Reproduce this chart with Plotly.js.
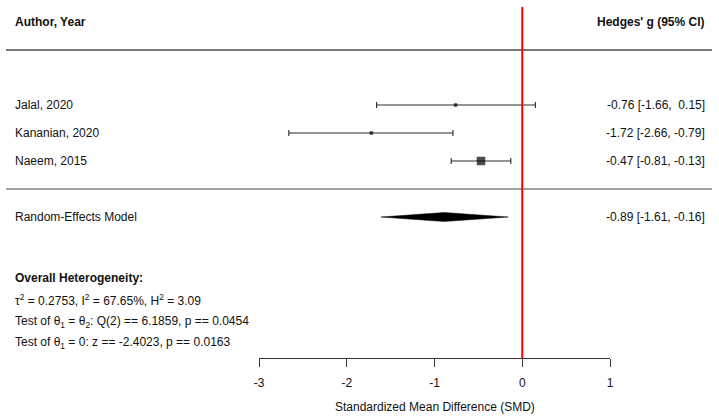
<!DOCTYPE html>
<html>
<head>
<meta charset="utf-8">
<script src="https://cdn.plot.ly/plotly-3.0.1.min.js"></script>
<style>
  html, body { margin: 0; padding: 0; background: #fff; }
  #chart { width: 719px; height: 417px; }
</style>
</head>
<body>
<div id="chart"></div>
<script>
// Study-level effect sizes (Hedges' g with 95% CI)
var studies = ['Jalal, 2020', 'Kananian, 2020', 'Naeem, 2015'];
var estimate = [-0.76, -1.72, -0.47];
var ciLower = [-1.66, -2.66, -0.81];
var ciUpper = [0.15, -0.79, -0.13];

// Pooled random-effects estimate
var modelLabel = 'Random-Effects Model';
var pooledEstimate = -0.89;
var pooledLower = -1.61;
var pooledUpper = -0.16;

// Heterogeneity statistics
var tau2 = '0.2753';
var i2 = '67.65%';
var h2 = '3.09';
var qDf = 2;
var qStat = '6.1859';
var qP = '0.0454';
var zStat = '-2.4023';
var zP = '0.0163';

var xTicks = [-3, -2, -1, 0, 1];

// Layout geometry (pixels)
var W = 719, H = 417;
var M = { l: 259, r: 109, t: 0, b: 59 };
var plotW = W - M.l - M.r;
var plotH = H - M.t - M.b;
var rowPx = 28;           // vertical distance between study rows
var row1Px = 161;         // pixel position of the bottom study row
function rowAt(p) { return 1 + (row1Px - p) / rowPx; }
function paperX(p) { return (p - M.l) / plotW; }
function paperY(p) { return 1 - (p - M.t) / plotH; }

var FONT = 'Liberation Sans, Arial, Helvetica, sans-serif';
var TXT = '#111';
var leftX = paperX(13);
var rightX = paperX(707);

var n = studies.length;
var rows = studies.map(function (_, i) { return n - i; });
var pooledRow = -1;

function fmt(v) {
  var s = v.toFixed(2);
  return v >= 0 ? '\u00a0' + s : s;
}
function ciText(e, lo, hi) {
  return e.toFixed(2) + ' [' + lo.toFixed(2) + ', ' + fmt(hi) + ']';
}

var traces = [];

// Confidence intervals
traces.push({
  type: 'scatter',
  mode: 'markers',
  x: estimate,
  y: rows,
  error_x: {
    type: 'data',
    symmetric: false,
    array: estimate.map(function (e, i) { return ciUpper[i] - e; }),
    arrayminus: estimate.map(function (e, i) { return e - ciLower[i]; }),
    color: '#2a2a2a',
    thickness: 1.1,
    width: 3
  },
  marker: { size: 1, opacity: 0 },
  hoverinfo: 'skip',
  showlegend: false,
  cliponaxis: false
});

// Point estimates, drawn over the interval lines
traces.push({
  type: 'scatter',
  mode: 'markers',
  x: estimate,
  y: rows,
  marker: { symbol: 'square', color: '#000', size: [3.5, 3.5, 8.5], line: { width: 0 } },
  hoverinfo: 'skip',
  showlegend: false,
  cliponaxis: false
});

// Pooled estimate diamond
var dh = 4.5 / rowPx;
traces.push({
  type: 'scatter',
  mode: 'lines',
  x: [pooledLower, pooledEstimate, pooledUpper, pooledEstimate, pooledLower],
  y: [pooledRow, pooledRow + dh, pooledRow, pooledRow - dh, pooledRow],
  fill: 'toself',
  fillcolor: '#000',
  line: { color: '#000', width: 0.5 },
  hoverinfo: 'skip',
  showlegend: false,
  cliponaxis: false
});

var annotations = [];
function addText(text, x, y, anchor, bold) {
  annotations.push({
    text: bold ? '<b>' + text + '</b>' : text,
    xref: 'paper', yref: 'y',
    x: x, y: y,
    xanchor: anchor, yanchor: 'middle',
    showarrow: false,
    font: { family: FONT, size: 12, color: TXT }
  });
}

// Column headers
addText('Author, Year', leftX, rowAt(22), 'left', true);
addText("Hedges' g (95% CI)", rightX, rowAt(22), 'right', true);

// Study rows
studies.forEach(function (s, i) {
  addText(s, leftX, rows[i], 'left', false);
  addText(ciText(estimate[i], ciLower[i], ciUpper[i]), rightX, rows[i], 'right', false);
});

// Pooled row
addText(modelLabel, leftX, pooledRow, 'left', false);
addText(ciText(pooledEstimate, pooledLower, pooledUpper), rightX, pooledRow, 'right', false);

// Heterogeneity block
addText('Overall Heterogeneity:', leftX, rowAt(278), 'left', true);
addText('\u03c4<sup>2</sup> = ' + tau2 + ', I<sup>2</sup> = ' + i2 + ', H<sup>2</sup> = ' + h2,
        leftX, rowAt(300), 'left', false);
addText('Test of \u03b8<sub>1</sub> = \u03b8<sub>2</sub>: Q(' + qDf + ') == ' + qStat + ', p == ' + qP,
        leftX, rowAt(322), 'left', false);
addText('Test of \u03b8<sub>1</sub> = 0: z == ' + zStat + ', p == ' + zP,
        leftX, rowAt(343), 'left', false);

// Axis title
annotations.push({
  text: 'Standardized Mean Difference (SMD)',
  xref: 'x', yref: 'paper',
  x: -1, y: paperY(407),
  xanchor: 'center', yanchor: 'middle',
  showarrow: false,
  font: { family: FONT, size: 12, color: TXT }
});

var yBottom = rowAt(M.t + plotH);
var yTop = rowAt(M.t);

var shapes = [
  // header separator
  { type: 'line', xref: 'paper', yref: 'y', x0: paperX(6), x1: paperX(712),
    y0: rowAt(50), y1: rowAt(50), line: { color: '#777', width: 2 } },
  // separator above pooled estimate
  { type: 'line', xref: 'paper', yref: 'y', x0: paperX(6), x1: paperX(712),
    y0: 0, y1: 0, line: { color: '#444', width: 1.2 } },
  // reference line at no effect
  { type: 'line', xref: 'x', yref: 'y', x0: 0, x1: 0,
    y0: yBottom, y1: rowAt(7), line: { color: '#ff0000', width: 2 } }
];

var layout = {
  width: W, height: H,
  margin: M,
  paper_bgcolor: '#fff',
  plot_bgcolor: 'rgba(0,0,0,0)',
  showlegend: false,
  font: { family: FONT, size: 12, color: TXT },
  xaxis: {
    range: [-3, 1],
    tickvals: xTicks,
    ticktext: xTicks.map(String),
    ticks: 'outside',
    ticklen: 8,
    tickwidth: 1,
    tickcolor: '#333',
    ticklabelstandoff: 6,
    showline: true,
    linecolor: '#333',
    linewidth: 1,
    showgrid: false,
    zeroline: false,
    fixedrange: true,
    tickfont: { family: FONT, size: 12, color: TXT }
  },
  yaxis: {
    range: [yBottom, yTop],
    visible: false,
    showgrid: false,
    zeroline: false,
    fixedrange: true
  },
  shapes: shapes,
  annotations: annotations
};

Plotly.newPlot('chart', traces, layout, { staticPlot: true, displayModeBar: false });
</script>
</body>
</html>
